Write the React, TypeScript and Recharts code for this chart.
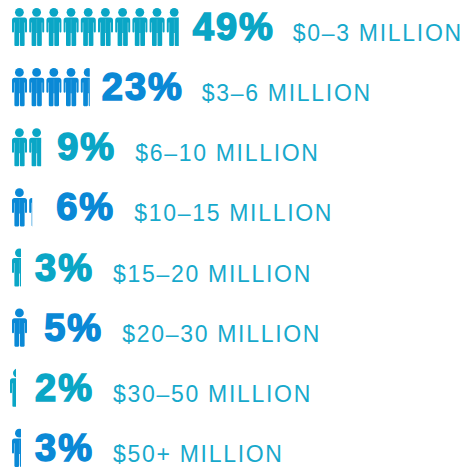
import { BarChart, Bar, XAxis, YAxis, LabelList } from 'recharts';

const brackets = [
  '$0–3 MILLION',
  '$3–6 MILLION',
  '$6–10 MILLION',
  '$10–15 MILLION',
  '$15–20 MILLION',
  '$20–30 MILLION',
  '$30–50 MILLION',
  '$50+ MILLION',
];
const shares = [49, 23, 9, 6, 3, 5, 2, 3];

const data = brackets.map((bracket, i) => ({ bracket, share: shares[i] }));

// styling only
const TEAL = '#0aa6c6';
const BLUE = '#0a89d6';
const LABEL_COLOR = '#17a9cc';
const PERCENT_PER_PERSON = 5;
const ICON_W = 15;
const ICON_H = 38;
const pctGaps = [14, 12, 16, 24, 14, 15, 19, 14];
const rowNudge = [0, 0, 0, 0, 0, 0, -2, 0];

const rowColor = (i: number) => (i % 2 === 0 ? TEAL : BLUE);

function Person({ x, y, fill }: { x: number; y: number; fill: string }) {
  return (
    <g transform={`translate(${x},${y})`}>
      <circle cx={7.4} cy={4.3} r={4.4} fill={fill} />
      <path
        fill={fill}
        d="M2.6 9.6H12.4Q15 9.6 15 12.2V23.6Q15 24.6 14 24.6Q13 24.6 13 23.6V14.4H12.6V37.2Q12.6 38 11.6 38H8.8Q7.9 38 7.9 37.2V25H7.1V37.2Q7.1 38 6.2 38H3.4Q2.4 38 2.4 37.2V14.4H2V23.6Q2 24.6 1 24.6Q0 24.6 0 23.6V12.2Q0 9.6 2.6 9.6Z"
      />
      <path d="M7.5 11V25" stroke="#fff" strokeOpacity={0.25} strokeWidth={0.5} />
    </g>
  );
}

function PersonRow(props: any) {
  const { x, y, width, height, index } = props;
  const slot = (width / props.share) * PERCENT_PER_PERSON;
  const persons = props.share / PERCENT_PER_PERSON;
  const whole = Math.floor(persons);
  const drawn = Math.ceil(persons);
  const clipW = whole * slot + (persons - whole) * ICON_W;
  const left = x + rowNudge[index];
  const top = y + height / 2 - ICON_H / 2;
  const id = `row-clip-${index}`;
  return (
    <g>
      <clipPath id={id}>
        <rect x={left} y={top - 1} width={clipW} height={ICON_H + 2} />
      </clipPath>
      <g clipPath={`url(#${id})`}>
        {Array.from({ length: drawn }, (_, k) => (
          <Person key={k} x={left + k * slot} y={top} fill={rowColor(index)} />
        ))}
      </g>
    </g>
  );
}

// end of the drawn icons, same sum as the clip in PersonRow
function iconEnd(x: number, width: number, share: number, index: number) {
  const slot = (width / share) * PERCENT_PER_PERSON;
  const persons = share / PERCENT_PER_PERSON;
  const whole = Math.floor(persons);
  return x + rowNudge[index] + whole * slot + (persons - whole) * ICON_W;
}

function RowText(props: any) {
  const { x, y, width, height, value, index } = props;
  const share = shares[index];
  const pctX = iconEnd(x, width, share, index) + pctGaps[index];
  const cy = y + height / 2;
  const pct = `${value}%`;
  const labelX = pctX + (pct.length === 3 ? 100 : 78);
  return (
    <g>
      <text
        x={pctX}
        y={cy + 13}
        fontFamily="'Liberation Sans', Arial, sans-serif"
        fontWeight={700}
        fontSize={38}
        letterSpacing={2}
        fill={rowColor(index)}
        stroke={rowColor(index)}
        strokeWidth={1.6}
      >
        {pct}
      </text>
      <text
        x={labelX}
        y={cy + 14}
        fontFamily="'Liberation Sans', Arial, sans-serif"
        fontSize={23}
        letterSpacing={1.7}
        fill={LABEL_COLOR}
      >
        {brackets[index]}
      </text>
    </g>
  );
}

export default function App() {
  return (
    <div style={{ position: 'absolute', left: 0, top: 0, width: 464, height: 470, overflow: 'hidden', background: '#fff' }}>
      <div style={{ position: 'absolute', left: 0, top: -3 }}>
        <BarChart
          width={464}
          height={481}
          layout="vertical"
          data={data}
          margin={{ top: 0, right: 280, bottom: 0, left: 12 }}
          barCategoryGap={10}
        >
          <XAxis type="number" domain={[0, 50]} hide />
          <YAxis type="category" dataKey="bracket" hide />
          <Bar dataKey="share" isAnimationActive={false} shape={<PersonRow />}>
            <LabelList dataKey="share" content={<RowText />} />
          </Bar>
        </BarChart>
      </div>
    </div>
  );
}
